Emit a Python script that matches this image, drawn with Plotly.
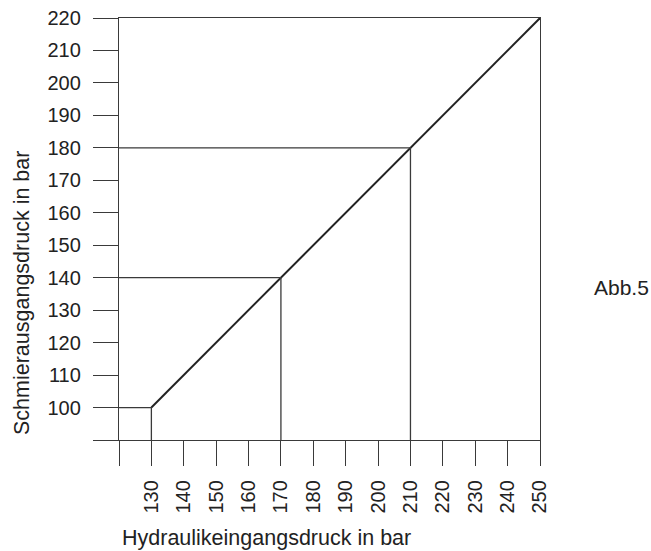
import plotly.graph_objects as go

# Data
x_ticks = [120, 130, 140, 150, 160, 170, 180, 190, 200, 210, 220, 230, 240, 250]
x_ticktext = [""] + [str(v) for v in x_ticks[1:]]
y_ticks = [90, 100, 110, 120, 130, 140, 150, 160, 170, 180, 190, 200, 210, 220]
y_ticktext = [""] + [str(v) for v in y_ticks[1:]]

# characteristic curve: input pressure -> output pressure
curve_x = [130, 250]
curve_y = [100, 220]

# reading examples (input, output)
ref_in = [130, 170, 210]
ref_out = [100, 140, 180]

x_min, x_max = 120, 250
y_min, y_max = 90, 220

LINE = "#3a3a3a"
FONT = "Liberation Sans, Arial, sans-serif"

fig = go.Figure()

# main curve: diagonal part
fig.add_trace(go.Scatter(x=curve_x, y=curve_y, mode="lines",
                         line=dict(color="#222222", width=2), hoverinfo="skip"))
# reference guide lines
for xi, yi in zip(ref_in, ref_out):
    fig.add_trace(go.Scatter(x=[x_min, xi, xi], y=[yi, yi, y_min], mode="lines",
                             line=dict(color=LINE, width=1.3), hoverinfo="skip"))

axis_common = dict(ticks="outside", ticklen=25, tickwidth=1.3, tickcolor=LINE,
                   showline=True, linecolor=LINE, linewidth=1.3, mirror=True,
                   showgrid=False, zeroline=False, automargin=False,
                   tickfont=dict(size=20, color="#222222"))

fig.update_layout(
    width=651, height=551,
    margin=dict(l=119, r=111, t=18, b=111, autoexpand=False),
    paper_bgcolor="white", plot_bgcolor="white",
    showlegend=False,
    font=dict(family=FONT, color="#222222", size=20),
    xaxis=dict(range=[x_min, x_max], tickvals=x_ticks, ticktext=x_ticktext,
               tickangle=-90, ticklabelstandoff=6, **axis_common),
    yaxis=dict(range=[y_min, y_max], tickvals=y_ticks, ticktext=y_ticktext,
               ticklabelstandoff=8, **axis_common),
)

fig.add_annotation(text="Hydraulikeingangsdruck in bar", xref="paper", yref="paper",
                   x=(266 - 119) / (540 - 119), y=-(538 - 440) / (440 - 18),
                   showarrow=False, font=dict(size=21.5), xanchor="center", yanchor="middle")
fig.add_annotation(text="Schmierausgangsdruck in bar", xref="paper", yref="paper",
                   x=-(119 - 22) / (540 - 119), y=(440 - 293) / (440 - 18),
                   showarrow=False, font=dict(size=21.5), textangle=-90,
                   xanchor="center", yanchor="middle")
fig.add_annotation(text="Abb.5", xref="paper", yref="paper",
                   x=(592 - 119) / (540 - 119), y=(440 - 287) / (440 - 18),
                   showarrow=False, font=dict(size=21), xanchor="left", yanchor="middle")

fig.write_html("out.html", config={"displayModeBar": False},
               post_script="document.body.style.margin='0';document.body.style.overflow='hidden';")
